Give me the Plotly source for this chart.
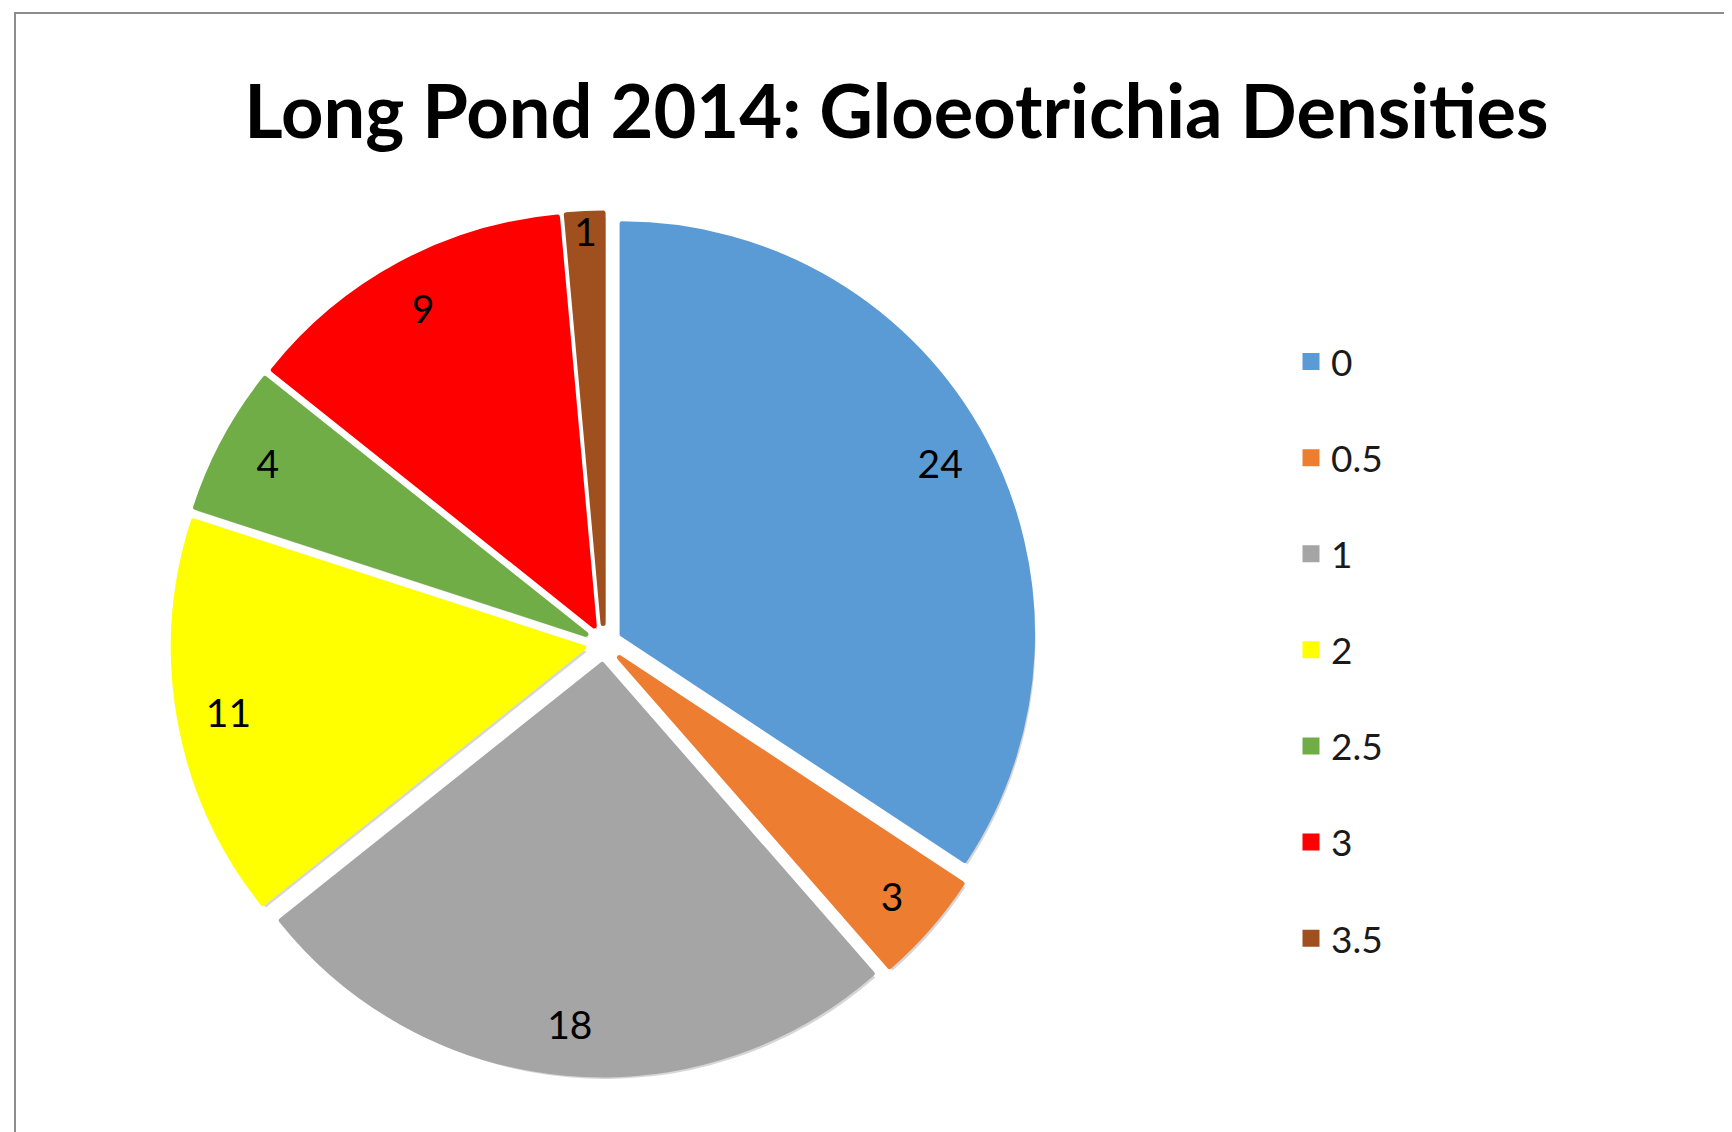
import plotly.graph_objects as go

categories = ["0", "0.5", "1", "2", "2.5", "3", "3.5"]
counts = [24, 3, 18, 11, 4, 9, 1]
colors = ["#5B9BD5", "#ED7D31", "#A5A5A5", "#FFFF00", "#70AD47", "#FF0000", "#A0501E"]
title_text = "Long Pond 2014: Gloeotrichia Densities"

W, H = 1732, 1132
cx, cy = 596, 636        # pie centre in px
r_ext = 431              # radius incl. pull
dom_x = [(cx - r_ext) / W, (cx + r_ext) / W]
dom_y = [1 - (cy + r_ext) / H, 1 - (cy - r_ext) / H]
PULL = 0.05

common = dict(labels=categories, values=counts, sort=False, direction="clockwise",
              rotation=0, pull=PULL)

fig = go.Figure()
# soft shadow behind the slices
fig.add_trace(go.Pie(
    **common,
    marker=dict(colors=["rgba(0,0,0,0.16)"] * len(counts), line=dict(width=0)),
    textinfo="none", hoverinfo="skip", showlegend=False,
    domain=dict(x=[dom_x[0] + 3 / W, dom_x[1] + 3 / W], y=[dom_y[0] - 4 / H, dom_y[1] - 4 / H]),
))
# the coloured slices (legend source)
fig.add_trace(go.Pie(
    **common,
    marker=dict(colors=colors, line=dict(width=5, color=colors)),
    textinfo="none",
    domain=dict(x=dom_x, y=dom_y),
))
# transparent ring carrying the value labels near the outer edge
fig.add_trace(go.Pie(
    **common, hole=0.76,
    marker=dict(colors=["rgba(0,0,0,0)"] * len(counts), line=dict(width=0)),
    textinfo="value", textposition="inside", insidetextorientation="horizontal",
    textfont=dict(family="Lato", size=39, color="#000000"),
    hoverinfo="skip", showlegend=False,
    domain=dict(x=dom_x, y=dom_y),
))
# invisible helper so each legend entry forms its own group (allows tall spacing)
fig.add_trace(go.Scatter(
    x=[None], y=[None], mode="markers", name=" ", legendgroup="zz",
    marker=dict(color="rgba(0,0,0,0)", size=1), hoverinfo="skip", showlegend=True,
))

fig.update_layout(
    width=W, height=H,
    margin=dict(l=0, r=0, t=0, b=0),
    paper_bgcolor="white", plot_bgcolor="white",
    xaxis=dict(visible=False), yaxis=dict(visible=False),
    title=dict(text="<b>" + title_text + "</b>", x=0.513, xanchor="center",
               y=1 - 104 / H, yanchor="middle",
               font=dict(family="Lato", size=74, color="#000000")),
    legend=dict(x=1283 / W, y=1 - 323 / H, xanchor="left", yanchor="top",
                font=dict(family="Lato", size=37, color="#1a1a1a"),
                traceorder="grouped", tracegroupgap=45,
                bgcolor="rgba(0,0,0,0)"),
    uniformtext=dict(minsize=39, mode="show"),
    shapes=[
        dict(type="line", xref="paper", yref="paper", x0=7 / W, x1=7 / W, y0=0, y1=1 - 4 / H,
             line=dict(color="#8c8c8c", width=2)),
        dict(type="line", xref="paper", yref="paper", x0=7 / W, x1=1, y0=1 - 5 / H, y1=1 - 5 / H,
             line=dict(color="#8c8c8c", width=2)),
    ],
)

fig.write_html("out.html")
